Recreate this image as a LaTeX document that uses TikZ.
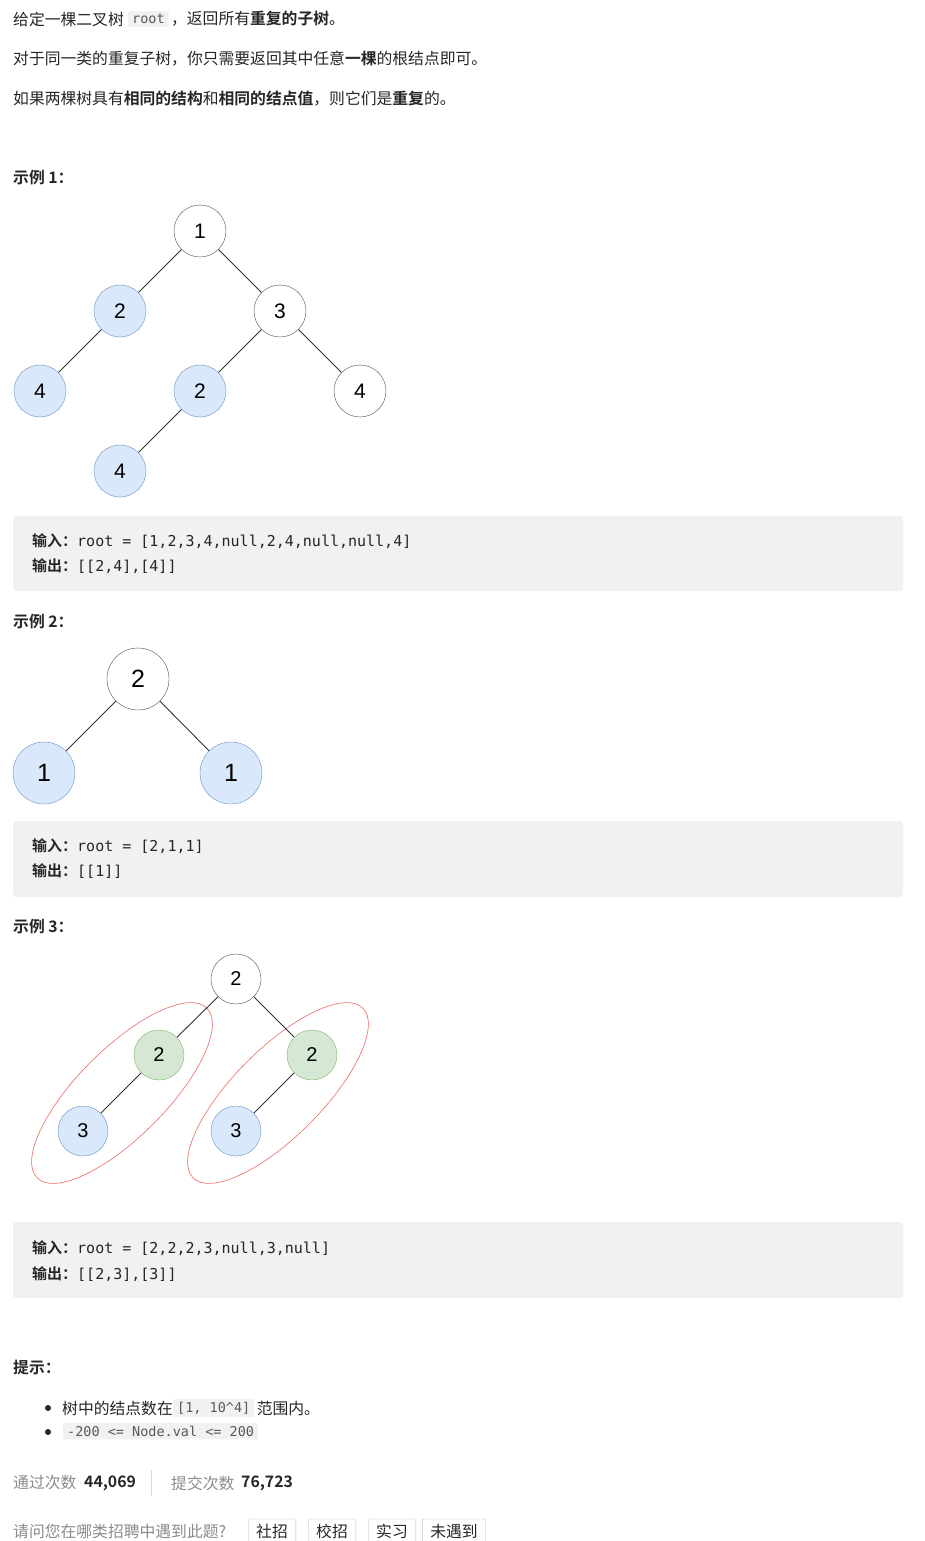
\documentclass[tikz,border=0pt]{standalone}
\usepackage{fontspec}
\setmainfont{Noto Sans CJK SC}
\newfontfamily\cjkb{Noto Sans CJK SC Bold}
\newfontfamily\mono{DejaVu Sans Mono}
\newfontfamily\arialf{Liberation Sans}
\definecolor{codebg}{HTML}{F0F1F3}
\definecolor{blfill}{HTML}{DAE8FC}
\definecolor{bldraw}{HTML}{6C8EBF}
\definecolor{grfill}{HTML}{D5E8D4}
\definecolor{grdraw}{HTML}{82B366}
\definecolor{redl}{HTML}{EA6B66}
\definecolor{txt}{HTML}{262626}
\definecolor{greyt}{HTML}{8C8C8C}
\begin{document}
\begin{tikzpicture}[x=1pt,y=-1pt,
  tx/.style={anchor=west,inner sep=0pt,font=\fontsize{15.8}{18}\selectfont,text=txt},
  cd/.style={anchor=west,inner sep=0pt,font=\fontsize{15}{17}\selectfont\mono,text=txt},
  ic/.style={anchor=west,fill=codebg,rounded corners=2pt,inner xsep=4pt,inner ysep=3pt,font=\fontsize{13.5}{16}\selectfont\mono,text=black!65},
  wn/.style={circle,draw=black!70,fill=white,minimum size=52pt,inner sep=0pt,font=\fontsize{21}{23}\selectfont\arialf},
  bn/.style={wn,draw=bldraw,fill=blfill},
  gn/.style={wn,draw=grdraw,fill=grfill},
  edge/.style={draw=black!80,line width=0.9pt},
  box/.style={fill=codebg,rounded corners=3pt},
  btn/.style={draw=black!25,rounded corners=2pt,inner xsep=8pt,font=\fontsize{15.8}{18}\selectfont,text=txt,minimum height=24pt}]
\useasboundingbox (0,0) rectangle (925,1541);
\fill[white] (0,0) rectangle (925,1541);
% top text
\node[tx] (l1a) at (13,19) {给定一棵二叉树};
\node[ic,xshift=4pt] (rt) at (l1a.east) {root};
\node[tx,xshift=2pt] (l1b) at (rt.east) {，返回所有{\cjkb 重复的子树}。};
\node[tx] (l2) at (13,59) {对于同一类的重复子树，你只需要返回其中任意{\cjkb 一棵}的根结点即可。};
\node[tx] (l3) at (13,99) {如果两棵树具有{\cjkb 相同的结构}和{\cjkb 相同的结点值}，则它们是{\cjkb 重复}的。};
% example 1
\node[tx] (e1) at (13,178) {\cjkb 示例 1：};
\node[wn] (a1) at (200,231) {1};
\node[bn] (a2) at (120,311) {2};
\node[wn] (a3) at (280,311) {3};
\node[bn] (a4) at (40,391) {4};
\node[bn] (a5) at (200,391) {2};
\node[wn] (a6) at (360,391) {4};
\node[bn] (a7) at (120,471) {4};
\draw[edge] (a1)--(a2) (a1)--(a3) (a2)--(a4) (a3)--(a5) (a3)--(a6) (a5)--(a7);
\fill[box] (13,516) rectangle (903,591);
\node[cd] (i1) at (32,541) {{\cjkb 输入：}root = [1,2,3,4,null,2,4,null,null,4]};
\node[cd] (o1) at (32,566) {{\cjkb 输出：}[[2,4],[4]]};
% example 2
\node[tx] (e2) at (13,622) {\cjkb 示例 2：};
\node[wn,minimum size=62pt,font=\fontsize{25}{27}\selectfont\arialf] (b1) at (138,679) {2};
\node[bn,minimum size=62pt,font=\fontsize{25}{27}\selectfont\arialf] (b2) at (44,773) {1};
\node[bn,minimum size=62pt,font=\fontsize{25}{27}\selectfont\arialf] (b3) at (231,773) {1};
\draw[edge] (b1)--(b2) (b1)--(b3);
\fill[box] (13,821) rectangle (903,897);
\node[cd] (i2) at (32,846) {{\cjkb 输入：}root = [2,1,1]};
\node[cd] (o2) at (32,871) {{\cjkb 输出：}[[1]]};
% example 3
\node[tx] (e3) at (13,927) {\cjkb 示例 3：};
\draw[redl,line width=0.6pt,rotate around={45:(122,1093)}] (122,1093) ellipse (120 and 44);
\draw[redl,line width=0.6pt,rotate around={45:(278,1093)}] (278,1093) ellipse (120 and 44);
\node[wn,minimum size=50pt,font=\fontsize{20}{22}\selectfont\arialf] (c1) at (236,979) {2};
\node[gn,minimum size=50pt,font=\fontsize{20}{22}\selectfont\arialf] (c2) at (159,1055) {2};
\node[gn,minimum size=50pt,font=\fontsize{20}{22}\selectfont\arialf] (c3) at (312,1055) {2};
\node[bn,minimum size=50pt,font=\fontsize{20}{22}\selectfont\arialf] (c4) at (83,1131) {3};
\node[bn,minimum size=50pt,font=\fontsize{20}{22}\selectfont\arialf] (c5) at (236,1131) {3};
\draw[edge] (c1)--(c2) (c1)--(c3) (c2)--(c4) (c3)--(c5);
\fill[box] (13,1222) rectangle (903,1298);
\node[cd] (i3) at (32,1248) {{\cjkb 输入：}root = [2,2,2,3,null,3,null]};
\node[cd] (o3) at (32,1274) {{\cjkb 输出：}[[2,3],[3]]};
% hints
\node[tx] (h) at (13,1367) {\cjkb 提示：};
\fill[txt] (48,1408) circle (3pt);
\fill[txt] (48,1432) circle (3pt);
\node[tx] (h1a) at (62,1408) {树中的结点数在};
\node[ic] (h1c) at (h1a.east) {[1,~10\textasciicircum4]};
\node[tx,xshift=2pt] (h1b) at (h1c.east) {范围内。};
\node[ic] (h2) at (63,1431) {-200 <= Node.val <= 200};
% stats
\node[tx,text=greyt] (s1) at (13,1483) {通过次数};
\node[tx,font=\fontsize{15.8}{18}\selectfont\cjkb] (s1v) at (84,1483) {44,069};
\draw[black!15] (151,1470)--(151,1496);
\node[tx,text=greyt] (s2) at (171,1483) {提交次数};
\node[tx,font=\fontsize{15.8}{18}\selectfont\cjkb] (s2v) at (241,1483) {76,723};
\node[tx,text=greyt] (q) at (13,1531) {请问您在哪类招聘中遇到此题?};
\node[btn] (k1) at (272,1531) {社招};
\node[btn] (k2) at (332,1531) {校招};
\node[btn] (k3) at (392,1531) {实习};
\node[btn] (k4) at (454,1531) {未遇到};
\end{tikzpicture}
\end{document}
